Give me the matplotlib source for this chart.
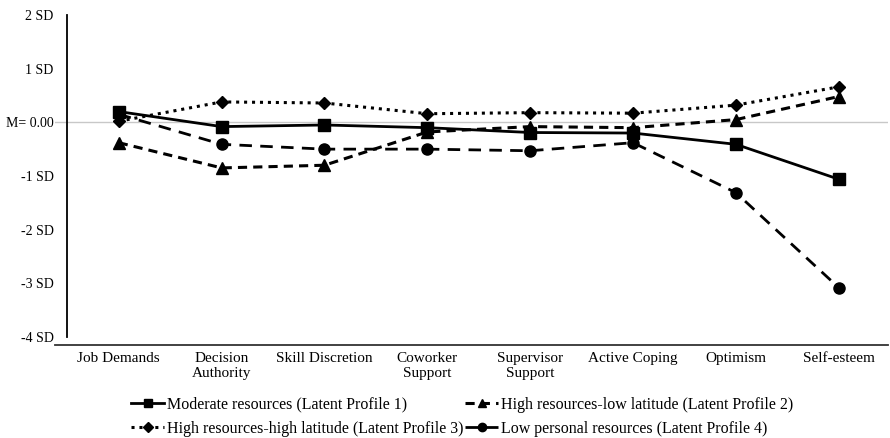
import numpy as np
import matplotlib
matplotlib.use("Agg")
import matplotlib.pyplot as plt

plt.rcParams['font.family'] = ['Liberation Serif', 'DejaVu Serif']

# Categories and profile means (in SD units)
categories = ["Job Demands", "Decision\nAuthority", "Skill Discretion", "Coworker\nSupport",
              "Supervisor\nSupport", "Active Coping", "Optimism", "Self-esteem"]
profile1 = [0.20, -0.08, -0.05, -0.10, -0.19, -0.20, -0.41, -1.06]
profile2 = [-0.38, -0.85, -0.80, -0.18, -0.08, -0.10, 0.05, 0.48]
profile3 = [0.02, 0.38, 0.36, 0.16, 0.18, 0.17, 0.32, 0.66]
profile4 = [0.15, -0.41, -0.50, -0.50, -0.53, -0.38, -1.31, -3.08]

labels = ["Moderate resources (Latent Profile 1)",
          "High resources-low latitude (Latent Profile 2)",
          "High resources-high latitude (Latent Profile 3)",
          "Low personal resources (Latent Profile 4)"]
yticks = [2, 1, 0, -1, -2, -3, -4]
ytick_labels = ["2 SD", "1 SD", "M= 0.00", "-1 SD", "-2 SD", "-3 SD", "-4 SD"]

fig = plt.figure(figsize=(8.9, 4.38), dpi=100)
ax = fig.add_axes([0.0618, 0.2123, 0.936, 0.7535])

x = np.arange(len(categories))
ax.axhline(0, color='#c8c8c8', lw=1.0, zorder=0)

h1, = ax.plot(x, profile1, color='black', lw=2.0, ls='-', marker='s', ms=8, label=labels[0])
h2, = ax.plot(x, profile2, color='black', lw=2.2, ls=(0, (3, 2)), marker='^', ms=8, label=labels[1])
h3, = ax.plot(x, profile3, color='black', lw=2.2, ls=(0, (1, 1.6)), marker='D', ms=6.5, label=labels[2])
h4, = ax.plot(x, profile4, color='black', lw=2.0, ls=(0, (4.5, 3)), marker='o', ms=8, label=labels[3])

ax.set_xlim(-0.62, 7.48)
ax.set_ylim(-4.15, 2)
ax.set_xticks(x)
ax.set_xticklabels(categories, fontsize=11, va='top')
ax.set_yticks(yticks)
ax.set_yticklabels(ytick_labels, fontsize=11)
ax.tick_params(axis='x', length=0, pad=5)
ax.tick_params(axis='y', length=0, pad=10)

for s in ['top', 'right']:
    ax.spines[s].set_visible(False)
ax.spines['left'].set_position(('data', -0.5))
ax.spines['left'].set_bounds(-4, 2)
ax.spines['left'].set_linewidth(1.3)
ax.spines['bottom'].set_linewidth(1.3)
ax.spines['bottom'].set_color('#333333')

# column-major fill: P1, P3 in column 1; P2, P4 in column 2
leg = fig.legend(handles=[h1, h3, h2, h4], loc='lower center', bbox_to_anchor=(0.519, -0.03),
                 ncol=2, frameon=False, fontsize=11.5, handlelength=2.1, handletextpad=0.15,
                 columnspacing=0.1, labelspacing=0.5, markerscale=0.75)

fig.savefig("out.png", dpi=100)
